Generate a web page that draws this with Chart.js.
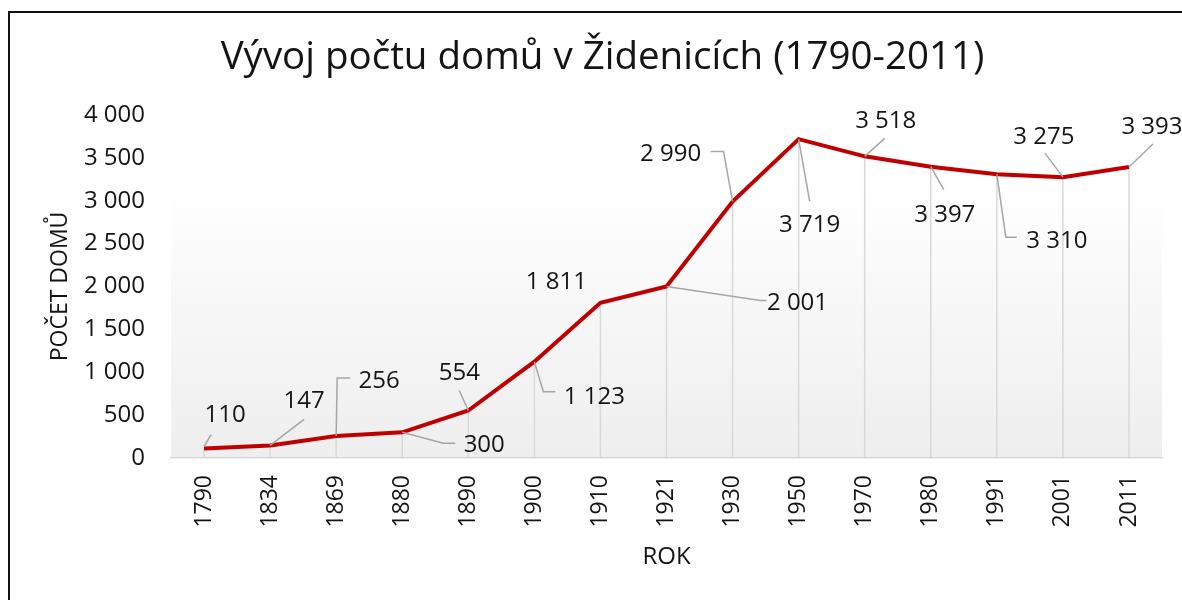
<!DOCTYPE html>
<html>
<head>
<meta charset="utf-8">
<script src="https://cdn.jsdelivr.net/npm/chart.js@4"></script>
<style>
  html, body { margin: 0; padding: 0; background: #fff; overflow: hidden; }
  #frame {
    position: absolute;
    left: 8px;
    top: 11px;
    width: 1178px;
    height: 600px;
    border-left: 2px solid #111;
    border-top: 2px solid #111;
  }
</style>
</head>
<body>
<div id="frame"><canvas id="houses" width="1178" height="587"></canvas></div>
<script>
// Vývoj počtu domů v Židenicích

const years = ["1790", "1834", "1869", "1880", "1890", "1900", "1910", "1921",
  "1930", "1950", "1970", "1980", "1991", "2001", "2011"];
const houseCounts = [110, 147, 256, 300, 554, 1123, 1811, 2001,
  2990, 3719, 3518, 3397, 3310, 3275, 3393];
const yMin = 0;
const yMax = 4000;
const yStep = 500;

const textColor = "#141414";
Chart.defaults.font.family = "'Open Sans', 'Noto Sans', sans-serif";
Chart.defaults.color = textColor;

// "3 393" style thousands separator
function fmt(v) {
  return String(v).replace(/\B(?=(\d{3})+(?!\d))/g, " ");
}

// gradient plot area
const plotBackground = {
  id: "plotBackground",
  beforeDraw(chart) {
    const { ctx, chartArea: a } = chart;
    const g = ctx.createLinearGradient(0, a.top, 0, a.bottom);
    g.addColorStop(0, "#ffffff");
    g.addColorStop(0.2, "#ffffff");
    g.addColorStop(1, "#eeeeee");
    ctx.save();
    ctx.fillStyle = g;
    ctx.fillRect(a.left, a.top, a.right - a.left, a.bottom - a.top);
    ctx.restore();
  },
};

// drop lines + data labels with leader lines
const leaderLabels = {
  id: "leaderLabels",
  beforeDatasetsDraw(chart) {
    const { ctx, chartArea } = chart;
    const pts = chart.getDatasetMeta(0).data;
    ctx.save();
    ctx.strokeStyle = "#d9d9d9";
    ctx.lineWidth = 1.5;
    pts.forEach((p) => {
      ctx.beginPath();
      ctx.moveTo(p.x, p.y);
      ctx.lineTo(p.x, chartArea.bottom);
      ctx.stroke();
    });
    ctx.restore();
  },
  afterDatasetsDraw(chart, args, opts) {
    const { ctx } = chart;
    const pts = chart.getDatasetMeta(0).data;
    const values = chart.data.datasets[0].data;
    ctx.save();
    ctx.strokeStyle = "#a6a6a6";
    ctx.lineWidth = 1.5;
    ctx.font = "24px 'Open Sans', 'Noto Sans', sans-serif";
    ctx.fillStyle = textColor;
    ctx.textAlign = "center";
    ctx.textBaseline = "middle";
    pts.forEach((p, i) => {
      const pl = opts.placement[i];
      if (pl.lead) {
        ctx.beginPath();
        pl.lead.forEach(([dx, dy], k) => {
          if (k === 0) ctx.moveTo(p.x + dx, p.y + dy);
          else ctx.lineTo(p.x + dx, p.y + dy);
        });
        ctx.stroke();
      }
      ctx.fillText(fmt(values[i]), p.x + pl.dx, p.y + pl.dy + 2);
    });
    ctx.restore();
  },
};

new Chart(document.getElementById("houses"), {
  type: "line",
  data: {
    labels: years,
    datasets: [
      {
        label: "Počet domů",
        data: houseCounts,
        borderColor: "#c00000",
        borderWidth: 4,
        pointRadius: 0,
        tension: 0,
        fill: false,
      },
    ],
  },
  options: {
    responsive: false,
    animation: false,
    layout: { padding: { top: 22, left: 33, right: 26, bottom: 24 } },
    plugins: {
      legend: { display: false },
      tooltip: { enabled: false },
      title: {
        display: true,
        text: "Vývoj počtu domů v Židenicích (1790-2011)",
        font: { size: 38.5, weight: "normal" },
        color: textColor,
        padding: { top: 0, bottom: 33.8 },
      },
      leaderLabels: {
        // label centre and leader polyline, relative to each point
        placement: [
          { dx: 21, dy: -35, lead: [[0, -2], [7, -14]] },
          { dx: 34, dy: -46, lead: [[0, 0], [34, -26]] },
          { dx: 43, dy: -57, lead: [[0, 0], [1, -58], [14, -58]] },
          { dx: 82, dy: 11, lead: [[0, 0], [41, 11], [53, 11]] },
          { dx: -9, dy: -39, lead: [[0, 0], [-9, -20]] },
          { dx: 60, dy: 33, lead: [[0, 0], [9, 30], [21, 30]] },
          { dx: -44, dy: -23 },
          { dx: 131, dy: 15, lead: [[0, 0], [94, 14], [100, 14]] },
          { dx: -62, dy: -49, lead: [[0, 0], [-9, -50], [-22, -50]] },
          { dx: 11, dy: 84, lead: [[0, 0], [11, 62]] },
          { dx: 21, dy: -37, lead: [[0, 0], [20, -18]] },
          { dx: 14, dy: 46, lead: [[0, 0], [13, 23]] },
          { dx: 60, dy: 65, lead: [[0, 0], [9, 63], [20, 63]] },
          { dx: -19, dy: -42, lead: [[0, 0], [-18, -24]] },
          { dx: 23, dy: -42, lead: [[0, 0], [24, -23]] },
        ],
      },
    },
    scales: {
      x: {
        offset: true,
        grid: { display: false, drawTicks: false, offset: true },
        border: { color: "#d9d9d9", width: 1.5 },
        ticks: {
          minRotation: 90,
          maxRotation: 90,
          padding: 17,
          font: { size: 23 },
          color: textColor,
        },
        title: {
          display: true,
          text: "ROK",
          font: { size: 24 },
          color: textColor,
        },
        afterFit(scale) {
          scale.height = 118;
        },
      },
      y: {
        min: yMin,
        max: yMax,
        grid: { display: false, drawTicks: false },
        border: { display: false },
        ticks: {
          stepSize: yStep,
          padding: 26,
          font: { size: 24 },
          color: textColor,
          callback: (v) => fmt(v),
        },
        title: {
          display: true,
          text: "POČET DOMŮ",
          font: { size: 23 },
          color: textColor,
        },
        afterFit(scale) {
          scale.width = 128;
        },
      },
    },
  },
  plugins: [plotBackground, leaderLabels],
});
</script>
</body>
</html>
